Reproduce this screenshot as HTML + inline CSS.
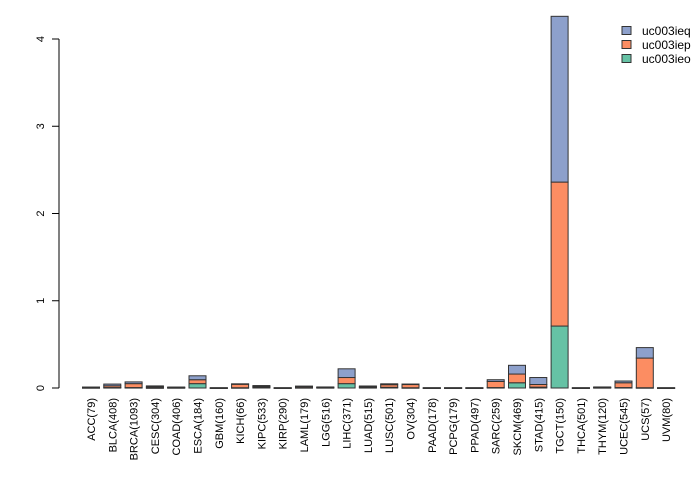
<!DOCTYPE html>
<html><head><meta charset="utf-8"><style>
body{margin:0;background:#fff;}
svg text{font-family:"Liberation Sans",Arial,sans-serif;fill:#000;}
</style></head><body>
<svg id="chart" width="700" height="480"></svg>
<script>
const categories=["ACC(79)","BLCA(408)","BRCA(1093)","CESC(304)","COAD(406)","ESCA(184)","GBM(160)","KICH(66)","KIPC(533)","KIRP(290)","LAML(179)","LGG(516)","LIHC(371)","LUAD(515)","LUSC(501)","OV(304)","PAAD(178)","PCPG(179)","PPAD(497)","SARC(259)","SKCM(469)","STAD(415)","TGCT(150)","THCA(501)","THYM(120)","UCEC(545)","UCS(57)","UVM(80)"];
const seriesNames=["uc003ieo","uc003iep","uc003ieq"];
const ieo=[0.003,0.005,0.005,0.002,0.003,0.05,0.001,0.003,0.008,0.001,0.004,0.004,0.05,0.005,0.008,0.003,0.001,0.001,0.001,0.005,0.06,0.01,0.71,0.001,0.004,0.005,0.003,0.001];
const iep=[0.004,0.02,0.045,0.012,0.004,0.045,0.001,0.04,0.01,0.001,0.012,0.004,0.07,0.01,0.03,0.04,0.001,0.001,0.001,0.07,0.1,0.03,1.65,0.001,0.004,0.055,0.34,0.001];
const ieq=[0.004,0.02,0.02,0.01,0.004,0.045,0.001,0.005,0.01,0.001,0.006,0.004,0.1,0.008,0.01,0.002,0.001,0.001,0.001,0.02,0.1,0.08,1.9,0.001,0.004,0.02,0.12,0.001];
const yTicks=[0,1,2,3,4];
const colors=["#66c2a5","#fc8d62","#8da0cb"];
const NS="http://www.w3.org/2000/svg";
const svg=document.getElementById("chart");
function y(v){return 388-v*87.25;}
function x(i){return 91+i*21.3;}
function mk(t,a){const e=document.createElementNS(NS,t);for(const k in a)e.setAttribute(k,a[k]);svg.appendChild(e);return e;}
const ax=mk("line",{x1:59,x2:59,y1:y(0),y2:y(4),stroke:"#000"});


yTicks.forEach(v=>{
  const tk=mk("line",{x1:52,x2:59,y1:y(v),y2:y(v),stroke:"#000"});
  
  
  const t=mk("text",{x:0,y:0,"font-size":11,"text-anchor":"middle",transform:`translate(44,${y(v)}) rotate(-90)`});
  t.textContent=v;
  
  
});
const series=[ieo,iep,ieq];
categories.forEach((c,i)=>{
  let base=0;
  series.forEach((s,k)=>{
    const v=s[i];
    const r=mk("rect",{x:x(i)-8.5,y:y(base+v),width:17,height:Math.max(v*87.25,0.5),fill:colors[k],stroke:"#333","stroke-width":1});
    
    
    base+=v;
  });
  const t=mk("text",{x:0,y:0,"font-size":11,"text-anchor":"end",transform:`translate(${x(i)+4},398) rotate(-90)`});
  t.textContent=c;
  
  
});
[2,1,0].forEach((k,j)=>{
  const ly=31+j*14;
  const r=mk("rect",{x:622,y:ly-4.5,width:9,height:8,fill:colors[k],stroke:"#333","stroke-width":1});
  
  
  const t=mk("text",{x:642,y:ly+4,"font-size":12});
  t.textContent=seriesNames[k];
  
  
});
</script>
</body></html>
